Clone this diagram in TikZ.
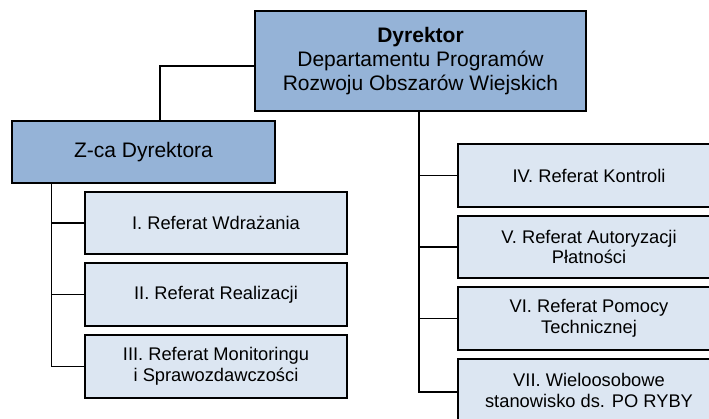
\documentclass[tikz,border=0pt]{standalone}
\usepackage{fontspec}
\setmainfont{Liberation Sans}
\definecolor{headblue}{HTML}{95B3D7}
\definecolor{subblue}{HTML}{DCE6F2}
\begin{document}
\begin{tikzpicture}[x=1pt,y=-1pt,
  headbox/.style={draw=black,line width=1.5pt,fill=headblue,rectangle,inner sep=0pt,align=center,font=\fontsize{21}{24}\selectfont},
  subbox/.style={draw=black,line width=1.5pt,fill=subblue,rectangle,inner sep=0pt,align=center,minimum width=262pt,font=\fontsize{18.3}{20.5}\selectfont},
  conn/.style={draw=black,line width=1.2pt}]
\useasboundingbox (0,0) rectangle (709,418);
\clip (0,0) rectangle (709,418);
\node[headbox,minimum width=331pt,minimum height=100pt] (top) at (420.5,61) {\textbf{Dyrektor}\\Departamentu Programów\\Rozwoju Obszarów Wiejskich};
\node[headbox,minimum width=263pt,minimum height=62pt] (zca) at (143.5,152) {Z-ca Dyrektora};
\node[subbox,minimum height=62pt] (r1) at (216,223) {I. Referat Wdrażania};
\node[subbox,minimum height=63pt] (r2) at (216,294.5) {II. Referat Realizacji};
\node[subbox,minimum height=63pt] (r3) at (216,366.5) {III. Referat Monitoringu\\i Sprawozdawczości};
\node[subbox,minimum height=63pt] (r4) at (589,175.5) {IV. Referat Kontroli};
\node[subbox,minimum height=62pt] (r5) at (589,247) {V. Referat Autoryzacji\\Płatności};
\node[subbox,minimum height=63pt] (r6) at (589,318.5) {VI. Referat Pomocy\\Technicznej};
\node[subbox,minimum height=63pt] (r7) at (589,390.5) {VII. Wieloosobowe\\stanowisko ds. PO RYBY};
% connectors
\draw[conn] ([yshift=-5pt]top.west) -| ([xshift=16.5pt]zca.north);
\coordinate (tl) at ([xshift=40pt]zca.south west);
\draw[conn] (tl) |- (r3.west);
\draw[conn] (r1.west) -- (r1.west -| tl);
\draw[conn] (r2.west) -- (r2.west -| tl);
\coordinate (tr) at ([xshift=-1.5pt]top.south);
\draw[conn] (tr) |- ([yshift=-1.5pt]r7.west);
\draw[conn] (r4.west) -- (r4.west -| tr);
\draw[conn] (r5.west) -- (r5.west -| tr);
\draw[conn] (r6.west) -- (r6.west -| tr);
\end{tikzpicture}
\end{document}
